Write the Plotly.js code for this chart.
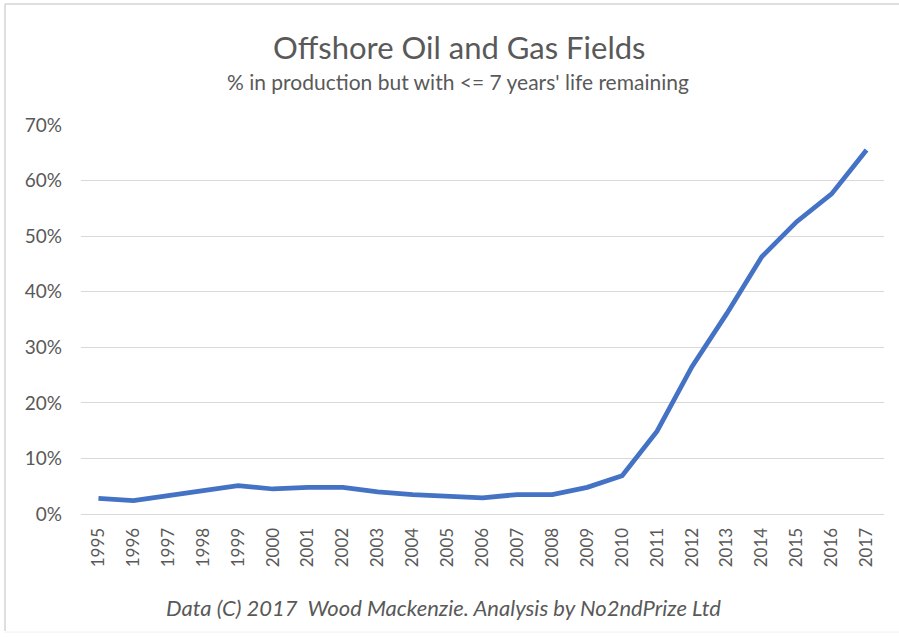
<!DOCTYPE html>
<html>
<head>
<meta charset="utf-8">
<script src="https://cdn.plot.ly/plotly-3.0.1.min.js"></script>
<style>
html,body{margin:0;padding:0;background:#fff;}
#chart{width:899px;height:637px;}
</style>
</head>
<body>
<div id="chart"></div>
<script>
const years = ["1995","1996","1997","1998","1999","2000","2001","2002","2003","2004","2005","2006","2007","2008","2009","2010","2011","2012","2013","2014","2015","2016","2017"];
const shareNearEnd = [0.028,0.024,0.033,0.042,0.051,0.045,0.048,0.048,0.040,0.035,0.031,0.029,0.035,0.035,0.048,0.069,0.149,0.265,0.361,0.463,0.526,0.576,0.655];
const yTicks = [0,0.1,0.2,0.3,0.4,0.5,0.6,0.7];
const yTickLabels = ["0%","10%","20%","30%","40%","50%","60%","70%"];
const titleText = "Offshore Oil and Gas Fields";
const subtitleText = "% in production but with <= 7 years' life remaining";
const footerText = "Data (C) 2017  Wood Mackenzie. Analysis by No2ndPrize Ltd";

const font = "Lato, 'Noto Sans', 'Liberation Sans', sans-serif";
const grey = "#595959";

// plot area in pixels (for placing texts in paper coords)
const L = 81, R = 884, T = 125, B = 514;
const pw = R - L, ph = B - T;
const px2x = p => (p - L) / pw;
const py2y = p => (B - p) / ph;

const trace = {
  x: years,
  y: shareNearEnd,
  type: "scatter",
  mode: "lines",
  line: {color: "#4472C4", width: 4.75, shape: "linear"},
  hoverinfo: "x+y"
};

const layout = {
  width: 899, height: 637,
  paper_bgcolor: "#ffffff", plot_bgcolor: "#ffffff",
  margin: {l: L, r: 899 - R, t: T, b: 637 - B},
  showlegend: false,
  font: {family: font, color: grey},
  annotations: [
    {text: titleText, xref: "paper", yref: "paper", x: px2x(459), y: py2y(47), xanchor: "center", yanchor: "middle",
     showarrow: false, font: {family: font, size: 31, color: grey}},
    {text: subtitleText, xref: "paper", yref: "paper", x: px2x(458), y: py2y(82), xanchor: "center", yanchor: "middle",
     showarrow: false, font: {family: font, size: 21, color: grey}},
    {text: "<i>" + footerText + "</i>", xref: "paper", yref: "paper", x: px2x(443), y: py2y(607), xanchor: "center", yanchor: "middle",
     showarrow: false, font: {family: font, size: 22, color: grey}}
  ],
  xaxis: {
    type: "category",
    range: [-0.5, 22.5],
    tickangle: -90,
    tickfont: {family: font, size: 17, color: grey},
    showgrid: false,
    showline: true, linecolor: "#d9d9d9", linewidth: 1,
    ticks: "", zeroline: false, fixedrange: true, ticklabelstandoff: 6
  },
  yaxis: {
    range: [0, 0.7],
    tickvals: yTicks, ticktext: yTickLabels,
    tickfont: {family: font, size: 19, color: grey},
    showgrid: true, gridcolor: "#d9d9d9", gridwidth: 1,
    zeroline: false, showline: false, ticks: "", ticklabelstandoff: 18, fixedrange: true
  },
  shapes: [
    {type: "line", xref: "paper", yref: "paper", x0: px2x(5), x1: px2x(5), y0: py2y(631), y1: py2y(4),
     line: {color: "#d4d4d4", width: 1.5}},
    {type: "line", xref: "paper", yref: "paper", x0: px2x(5), x1: px2x(899), y0: py2y(4), y1: py2y(4),
     line: {color: "#d4d4d4", width: 1.5}},
    {type: "line", xref: "paper", yref: "paper", x0: px2x(5), x1: px2x(899), y0: py2y(632), y1: py2y(632),
     line: {color: "#f0f0f0", width: 1}}
  ]
};

Plotly.newPlot("chart", [trace], layout, {staticPlot: true, displayModeBar: false});
</script>
</body>
</html>
